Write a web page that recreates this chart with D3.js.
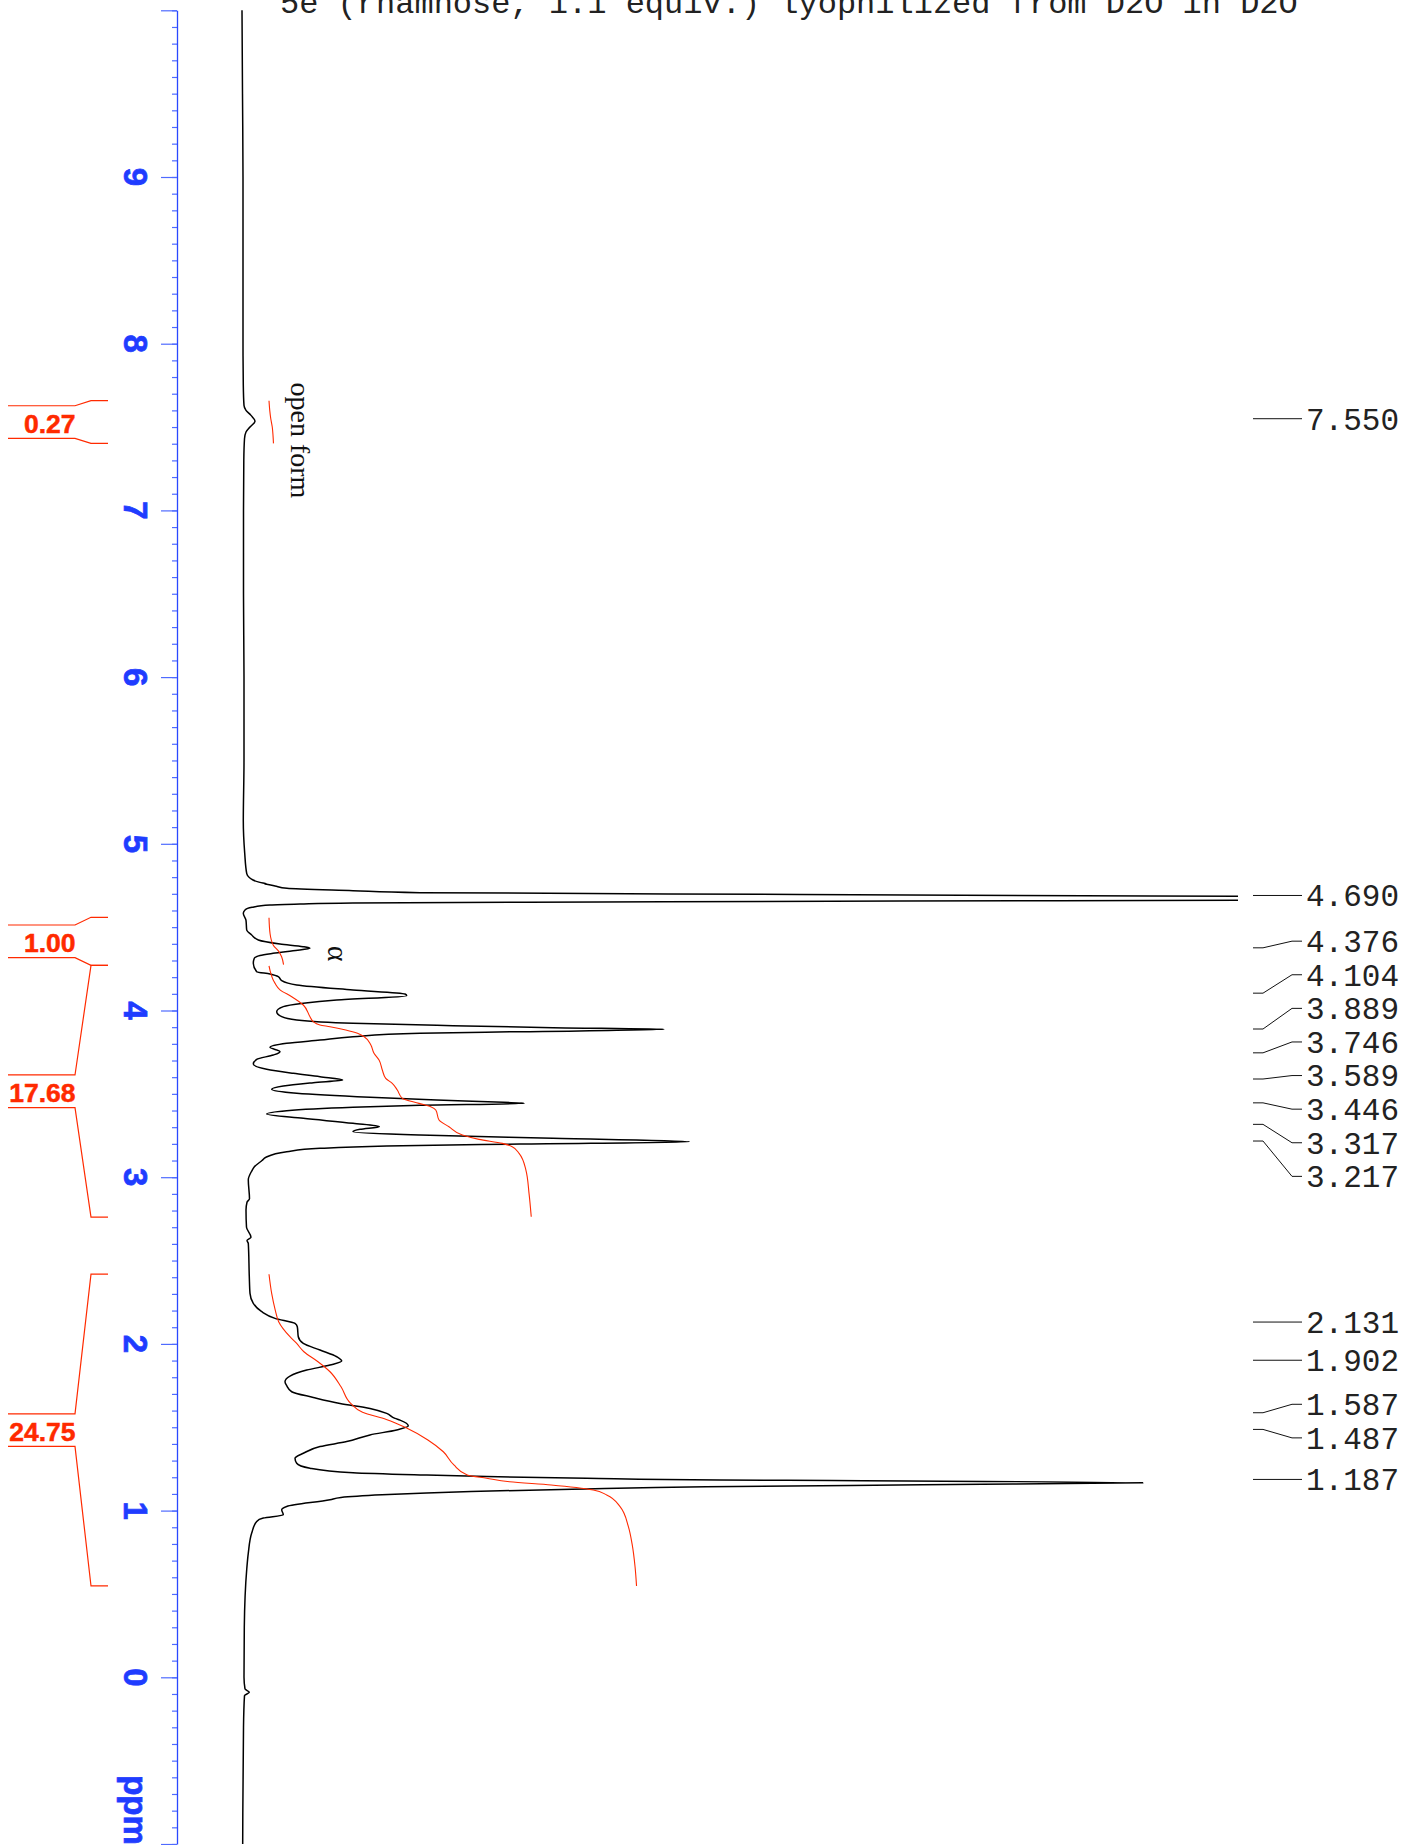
<!DOCTYPE html>
<html>
<head>
<meta charset="utf-8">
<title>1H NMR 5e rhamnose</title>
<script src="https://d3js.org/d3.v7.min.js"></script>
<style>
  html, body { margin: 0; padding: 0; background: #fff; }
  svg { display: block; }
  .axis-label { font-family: "Liberation Sans", Arial, sans-serif; font-weight: bold; font-size: 33px; fill: #1f3cff; stroke: #1f3cff; stroke-width: 0.7px; }
  .int-label { font-family: "Liberation Sans", Arial, sans-serif; font-weight: bold; font-size: 26.5px; fill: #ff2a00; stroke: #ff2a00; stroke-width: 0.5px; }
  .peak-label { font-family: "Liberation Mono", "Courier New", monospace; font-size: 31px; fill: #222; }
  .title { font-family: "Liberation Mono", "Courier New", monospace; font-size: 32px; fill: #222; }
  .note { font-family: "Liberation Serif", "Times New Roman", serif; fill: #111; }
</style>
</head>
<body>
<svg id="chart" width="1418" height="1845"></svg>
<script>
// ---- data ----
const title = '5e (rhamnose, 1.1 equiv.) lyophilized from D2O in D2O';
const tickLabels = [9, 8, 7, 6, 5, 4, 3, 2, 1, 0];
const peakPpm = [7.550, 4.690, 4.376, 4.104, 3.889, 3.746, 3.589, 3.446, 3.317, 3.217,
                 2.131, 1.902, 1.587, 1.487, 1.187];
const integralValues = ['0.27', '1.00', '17.68', '24.75'];
const integralStart = [7.658, 4.559, 4.271, 2.418];
const integralEnd = [7.402, 4.271, 2.760, 0.548];
const noteTexts = ['open form', 'α'];
const notePpm = [7.42, 4.342];
const noteSize = [28, 30];
const noteInt = [4.9, 8.6];

// [ppm, intensity]
const spectrum = [
  [10.0, 0.0], [9.5, 0.05], [9.0, 0.1], [8.5, 0.1], [8.0, 0.1], [7.75, 0.13], [7.63, 0.2],
  [7.60, 0.4], [7.57, 0.9], [7.535, 1.3], [7.50, 0.8], [7.47, 0.4], [7.43, 0.25], [7.3, 0.18],
  [7.0, 0.15], [6.5, 0.15], [6.0, 0.2], [5.5, 0.2], [5.14, 0.13], [4.945, 0.27], [4.823, 0.47],
  [4.783, 1.1], [4.770, 1.7], [4.765, 2.1], [4.762, 2.4], [4.758, 2.3], [4.756, 2.6], [4.747, 3.3],
  [4.733, 4.5], [4.719, 11.1], [4.707, 17.8], [4.696, 55.8], [4.687, 90.8], [4.678, 120],
  [4.670, 125.8], [4.665, 115.8], [4.661, 99.6], [4.657, 65.8], [4.651, 35.8], [4.645, 11.1],
  [4.639, 5.8], [4.633, 2.8], [4.619, 1.0], [4.603, 0.3], [4.583, 0.13], [4.541, 0.4],
  [4.483, 0.47], [4.453, 0.97], [4.423, 1.63], [4.399, 3.8], [4.383, 6.1], [4.373, 6.8],
  [4.359, 5.1], [4.343, 3.1], [4.330, 1.8], [4.313, 1.23], [4.283, 1.13], [4.233, 1.47],
  [4.219, 2.8], [4.203, 3.63], [4.179, 3.97], [4.153, 5.47], [4.123, 11.1], [4.099, 16.3],
  [4.089, 16.47], [4.063, 9.47], [4.043, 6.13], [4.023, 4.13], [3.993, 3.47], [3.963, 3.97],
  [3.943, 5.47], [3.923, 11.1], [3.909, 21.1], [3.897, 31.1], [3.887, 42.2], [3.873, 27.8],
  [3.863, 17.8], [3.843, 11.1], [3.823, 7.8], [3.803, 4.47], [3.779, 2.8], [3.753, 3.8],
  [3.733, 3.13], [3.707, 1.47], [3.679, 1.13], [3.647, 2.47], [3.623, 5.13], [3.603, 7.8],
  [3.583, 10.07], [3.567, 7.13], [3.547, 4.13], [3.527, 2.97], [3.503, 5.47], [3.479, 12.8],
  [3.463, 19.47], [3.449, 26.13], [3.443, 28.23], [3.431, 17.8], [3.419, 11.1], [3.399, 4.47],
  [3.379, 2.47], [3.353, 6.13], [3.323, 11.1], [3.303, 13.73], [3.287, 11.8], [3.273, 11.1],
  [3.253, 17.8], [3.233, 31.1], [3.213, 44.73], [3.199, 27.8], [3.187, 14.47], [3.173, 7.8],
  [3.153, 4.47], [3.12, 2.4], [3.10, 2.0], [3.06, 1.2], [3.04, 1.0], [2.984, 0.63], [2.87, 0.75],
  [2.85, 0.5], [2.803, 0.4], [2.70, 0.45], [2.64, 0.9], [2.62, 0.5], [2.603, 0.63], [2.403, 0.73],
  [2.303, 0.8], [2.243, 1.13], [2.193, 1.97], [2.153, 3.3], [2.123, 5.3], [2.103, 5.53],
  [2.043, 5.63], [2.003, 6.13], [1.963, 7.8], [1.923, 9.47], [1.897, 9.97], [1.873, 8.8],
  [1.843, 6.47], [1.807, 4.8], [1.773, 4.3], [1.749, 4.47], [1.713, 4.97], [1.679, 7.13],
  [1.643, 9.8], [1.613, 12.8], [1.583, 14.47], [1.553, 15.3], [1.543, 15.8], [1.507, 16.63],
  [1.484, 15.47], [1.454, 12.8], [1.414, 10.47], [1.384, 7.8], [1.344, 6.13], [1.314, 5.3],
  [1.284, 5.47], [1.254, 6.8], [1.227, 11.1], [1.214, 17.8], [1.204, 24.47], [1.194, 34.47],
  [1.184, 47.8], [1.180, 59], [1.167, 90.1], [1.155, 68], [1.143, 46.4], [1.128, 33],
  [1.115, 22.9], [1.095, 14.0], [1.079, 9.9], [1.065, 8.8], [1.025, 4.47], [1.005, 3.97],
  [0.975, 4.13], [0.955, 2.13], [0.935, 1.47], [0.865, 0.97], [0.745, 0.63], [0.645, 0.47],
  [0.3, 0.23], [0.0, 0.2], [-0.07, 0.3], [-0.09, 0.73], [-0.11, 0.25], [-0.3, 0.15], [-1.0, 0.07]
];

// [ppm, cumulative integral] for each red integral curve
const integralCurves = [
  [[7.658, 0], [7.60, 0.05], [7.55, 0.12], [7.50, 0.22], [7.45, 0.27], [7.402, 0.3]],
  [[4.556, 0], [4.462, 0.07], [4.392, 0.29], [4.358, 0.63], [4.322, 0.85], [4.275, 0.98]],
  [[4.268, 0], [4.164, 0.4], [4.124, 0.74], [4.083, 1.53], [4.033, 2.31], [3.963, 2.76],
   [3.933, 2.98], [3.913, 3.43], [3.903, 4.11], [3.883, 5.17], [3.863, 5.96], [3.843, 6.41],
   [3.793, 6.86], [3.743, 7.07], [3.703, 7.41], [3.643, 7.63], [3.593, 7.86], [3.563, 8.3],
   [3.523, 8.64], [3.473, 8.98], [3.443, 10.1], [3.423, 10.89], [3.403, 11.23], [3.343, 11.45],
   [3.303, 12.12], [3.253, 13.02], [3.227, 14.14], [3.203, 15.71], [3.183, 16.38],
   [3.143, 16.84], [3.043, 17.3], [2.903, 17.51], [2.763, 17.66]],
  [[2.418, 0], [2.303, 0.18], [2.203, 0.42], [2.133, 0.65], [2.043, 1.41], [2.004, 1.85],
   [1.953, 2.35], [1.893, 3.3], [1.833, 4.11], [1.743, 4.85], [1.643, 5.5], [1.590, 6.3],
   [1.547, 7.9], [1.494, 9.3], [1.424, 10.7], [1.353, 11.74], [1.274, 12.45], [1.214, 13.35],
   [1.194, 14.66], [1.173, 16.2], [1.154, 19.0], [1.124, 21.84], [1.094, 22.74], [1.024, 23.64],
   [0.904, 24.2], [0.800, 24.45], [0.663, 24.65], [0.548, 24.75]]
];

// ---- layout ----
const axisX = 177;
const labelGap = 33.6;
const red = '#ff2a00';
const blue = '#2a48ff';

const svg = d3.select('#chart');
svg.append('rect').attr('width', 1418).attr('height', 1845).attr('fill', '#fff');

const y = d3.scaleLinear().domain([10, -1]).range([10.3, 1844]);
const xSpec = d3.scaleLinear().domain([0, 100]).range([242, 1242]);
const xIntg = d3.scaleLinear().domain([0, 25]).range([269, 640.25]);

svg.append('defs').append('clipPath').attr('id', 'plot')
  .append('rect').attr('x', 0).attr('y', 0).attr('width', 1238).attr('height', 1845);

// title (cut by the top edge, as in the original plot)
svg.append('text').attr('class', 'title')
  .attr('x', 280).attr('y', 13)
  .text(title);

// ppm axis
const gAxis = svg.append('g').attr('transform', `translate(${axisX},0)`);
gAxis.append('g')
  .call(d3.axisLeft(y).tickValues(d3.range(-10, 101).map(d => d / 10)).tickSize(5).tickSizeOuter(0).tickFormat(''))
  .call(g => g.select('.domain').remove());
gAxis.append('g')
  .call(d3.axisLeft(y).tickValues(d3.range(-1, 11)).tickSize(16).tickSizeOuter(0).tickFormat(''))
  .call(g => g.select('.domain').attr('stroke', blue).attr('stroke-width', 1.3));
gAxis.selectAll('.tick line').attr('stroke', '#4f6bff').attr('stroke-width', 1.2);

gAxis.selectAll('text.axis-label')
  .data(tickLabels)
  .join('text')
  .attr('class', 'axis-label')
  .attr('text-anchor', 'middle')
  .attr('transform', d => `translate(${124 - axisX},${y(d)}) rotate(90)`)
  .text(d => d);
gAxis.append('text')
  .attr('class', 'axis-label')
  .attr('text-anchor', 'middle')
  .attr('transform', `translate(${124 - axisX},${y(-0.796)}) rotate(90)`)
  .text('ppm');

// integral brackets and values
const gInt = svg.append('g');
integralValues.forEach((v, i) => {
  const y0 = y(integralStart[i]);
  const y1 = y(integralEnd[i]);
  const yc = (y0 + y1) / 2;
  gInt.append('path')
    .attr('d', `M8,${yc - 16.3}H75L91,${y0}H108M8,${yc + 16.3}H75L91,${y1}H108`)
    .attr('fill', 'none').attr('stroke', red).attr('stroke-width', 1.2);
  gInt.append('text')
    .attr('class', 'int-label')
    .attr('x', 75.5).attr('y', yc + 10.5)
    .attr('text-anchor', 'end')
    .text(v);
});

// spectrum trace
const gPlot = svg.append('g').attr('clip-path', 'url(#plot)');
gPlot.append('path')
  .datum(spectrum)
  .attr('fill', 'none')
  .attr('stroke', '#000')
  .attr('stroke-width', 1.5)
  .attr('stroke-linejoin', 'round')
  .attr('d', d3.line().x(d => xSpec(d[1])).y(d => y(d[0])).curve(d3.curveMonotoneY));

// integral curves
gPlot.selectAll('path.integral')
  .data(integralCurves)
  .join('path')
  .attr('class', 'integral')
  .attr('fill', 'none')
  .attr('stroke', red)
  .attr('stroke-width', 1.1)
  .attr('d', d3.line().x(d => xIntg(d[1])).y(d => y(d[0])).curve(d3.curveMonotoneY));

// annotations
noteTexts.forEach((t, i) => {
  svg.append('text')
    .attr('class', 'note')
    .attr('font-size', noteSize[i])
    .attr('text-anchor', 'middle')
    .attr('transform', `translate(${xSpec(noteInt[i])},${y(notePpm[i])}) rotate(90)`)
    .text(t);
});

// peak picking labels, spread so they do not overlap
function spreadLabels(ys, gap) {
  const clusters = ys.map(v => ({ n: 1, sum: v }));
  let merged = true;
  while (merged) {
    merged = false;
    for (let i = 0; i < clusters.length - 1; i++) {
      const a = clusters[i], b = clusters[i + 1];
      const aEnd = a.sum / a.n + (a.n - 1) / 2 * gap;
      const bStart = b.sum / b.n - (b.n - 1) / 2 * gap;
      if (bStart - aEnd < gap) {
        a.n += b.n;
        a.sum += b.sum;
        clusters.splice(i + 1, 1);
        merged = true;
        break;
      }
    }
  }
  const out = [];
  clusters.forEach(c => {
    const m = c.sum / c.n;
    for (let k = 0; k < c.n; k++) out.push(m + (k - (c.n - 1) / 2) * gap);
  });
  return out;
}

const peakY = peakPpm.map(p => y(p));
const labelY = spreadLabels(peakY, labelGap);
const peaks = peakPpm.map((p, i) => ({ p, yp: peakY[i], yl: labelY[i] }));

const gPeaks = svg.append('g');
gPeaks.selectAll('path')
  .data(peaks)
  .join('path')
  .attr('fill', 'none')
  .attr('stroke', '#111')
  .attr('stroke-width', 1)
  .attr('d', d => `M1253,${d.yp}H1263L1292,${d.yl}H1302`);
gPeaks.selectAll('text')
  .data(peaks)
  .join('text')
  .attr('class', 'peak-label')
  .attr('x', 1306)
  .attr('y', d => d.yl)
  .attr('dy', '0.35em')
  .text(d => d.p.toFixed(3));
</script>
</body>
</html>
